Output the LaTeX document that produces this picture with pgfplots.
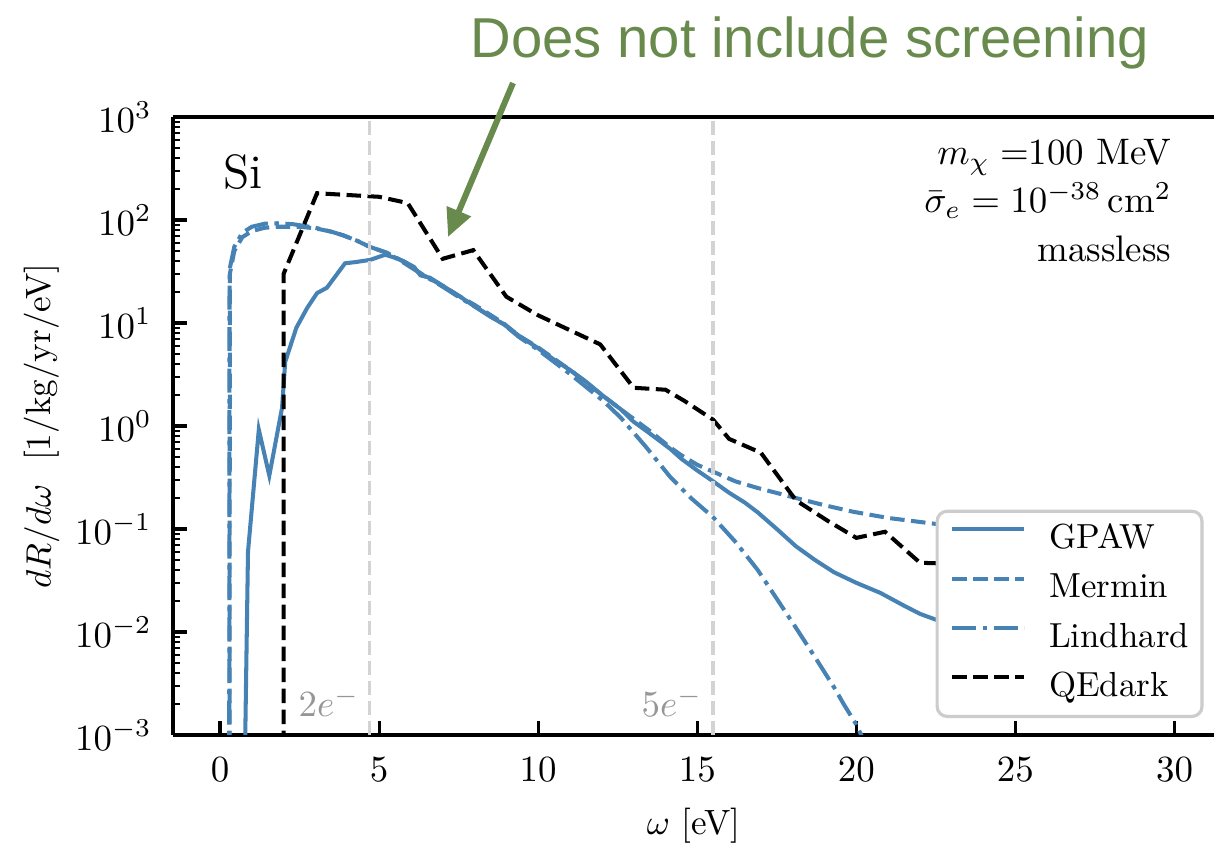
\RequirePackage{fix-cm}
\documentclass[border=0pt]{standalone}
\usepackage{fontspec}
\usepackage{pgfplots}
\pgfplotsset{compat=1.18}
\usetikzlibrary{arrows.meta}
\newfontfamily\annfont{Liberation Sans}
\definecolor{steel}{RGB}{70,130,180}
\definecolor{annot}{RGB}{104,138,76}
\definecolor{vline}{RGB}{211,211,211}
\definecolor{ntext}{RGB}{150,150,150}
\newcommand\labfont{\fontsize{10.5}{12.5}\selectfont}

\begin{document}
\begin{tikzpicture}
\begin{axis}[
  at={(0,0)}, anchor=south west,
  scale only axis, width=104.1mm, height=61.8mm,
  xmin=-1.477, xmax=31.24, ymin=1e-3, ymax=1e3, ymode=log,
  axis x line*=box, axis y line*=left,
  axis line style={line width=1.0pt, -},
  xtick={0,5,...,30}, xtick pos=left,
  ytick={1e-3,1e-2,1e-1,1,10,100,1000},
  tick align=inside,
  major tick length=1.4mm, minor tick length=0.75mm,
  major tick style={black, line width=0.9pt},
  minor tick style={black, line width=0.65pt},
  tick label style={font=\labfont},
  xticklabel style={yshift=-1mm},
  yticklabel style={xshift=-0.9mm},
  label style={font=\labfont},
  xlabel={$\omega$ [eV]},
  ylabel={$dR/d\omega$~~[1/kg/yr/eV]},
  every axis x label/.style={at={(axis description cs:0.5,-0.146)}, anchor=center},
  every axis y label/.style={at={(axis description cs:-0.126,0.5)}, anchor=center, rotate=90},
  legend style={
    at={(axis description cs:0.990,0.0275)}, anchor=south east,
    draw=black!20, line width=0.9pt, rounded corners=1mm, fill=white,
    font=\fontsize{9.9}{12}\selectfont,
    inner xsep=1.3mm, inner ysep=1.1mm,
    row sep=1.42mm,
    nodes={text height=0.75em, text depth=0.25em, inner ysep=0pt, inner xsep=0pt},
    /tikz/every odd column/.append style={column sep=2.3mm},
  },
  legend cell align=left,
  legend image code/.code={\draw[#1, rounded corners=0pt] (0mm,0.3em) -- (7.2mm,0.3em);},
  every axis plot/.append style={line width=1.15pt},
]

% GPAW
\addplot[steel, solid] coordinates {
(0.78,0.0005) (0.88,0.06) (1.22,0.92) (1.55,0.33) (1.95,1.5) (2.05,4.2)
(2.4,9) (2.74,14) (3.05,19.5) (3.36,22) (3.93,38) (4.25,39) (4.72,41)
(5.19,46) (5.5,43) (5.76,40) (6.1,35) (6.3,29) (6.6,27.5) (7.0,23)
(7.55,18) (8.0,14.5) (8.5,11.5) (8.9,9.8) (9.4,7.5) (9.96,5.8) (10.5,4.4)
(11.0,3.5) (11.5,2.7) (12.05,1.95) (12.6,1.45) (13.0,1.1) (13.5,0.85)
(14.15,0.6) (14.5,0.48) (15.0,0.37) (15.5,0.29) (16.0,0.225) (16.5,0.18)
(16.9,0.145) (17.5,0.1) (18.1,0.068) (18.7,0.05) (19.3,0.038) (20.0,0.03)
(20.75,0.024) (21.5,0.018) (22.0,0.015) (22.7,0.0125) (23.5,0.010)
(25,0.007) (27,0.0045) (30,0.0025)
};
\addlegendentry{GPAW}

% Mermin
\addplot[steel, dash pattern=on 1.45mm off 0.65mm] coordinates {
(0.30,0.0005) (0.31,30) (0.45,50) (0.7,68) (1.0,78) (1.4,84) (1.8,86)
(2.5,86) (3.0,83) (3.5,77) (3.87,71) (4.3,63) (4.7,55) (5.25,48) (5.8,39)
(6.4,29) (7.0,23) (7.55,18) (8.0,15) (8.9,10) (9.4,7.5) (9.96,5.9)
(11.0,3.5) (12.05,1.95) (12.6,1.45) (13.5,0.9) (14.15,0.62) (14.5,0.52)
(15.0,0.42) (15.5,0.36) (16.2,0.29) (16.9,0.25) (18.1,0.2) (19.0,0.17)
(19.9,0.147) (21.0,0.128) (22.7,0.11) (25,0.095) (27.5,0.083) (30,0.074)
};
\addlegendentry{Mermin}

% Lindhard
\addplot[steel, dash pattern=on 2.4mm off 0.65mm on 0.45mm off 0.65mm] coordinates {
(0.29,0.0005) (0.30,33) (0.45,55) (0.7,75) (1.0,86) (1.4,92) (1.8,93)
(2.3,91) (2.6,88) (3.0,84) (3.5,77) (3.87,71) (4.3,63) (4.7,55) (5.25,48)
(5.8,38) (6.4,29) (7.0,22.5) (7.55,17.5) (8.0,14.5) (8.9,9.8) (9.4,7.3)
(9.96,5.6) (11.0,3.2) (12.05,1.75) (12.6,1.2) (13.4,0.62) (14.15,0.32)
(14.8,0.2) (15.5,0.13) (16.2,0.075) (16.9,0.04) (17.5,0.021) (18.1,0.011)
(18.7,0.0057) (19.3,0.0029) (19.6,0.002) (20.0,0.00126) (20.3,0.0008)
};
\addlegendentry{Lindhard}

% QEdark
\addplot[black, dash pattern=on 1.45mm off 0.65mm] coordinates {
(2.0,0.0005) (2.0,30) (3.05,182) (4.7,170) (5.0,168) (5.9,146) (7.0,42)
(7.96,51) (9.0,18) (9.97,12) (11.0,8.5) (11.95,6.2) (13.0,2.35) (14.0,2.25)
(14.6,1.75) (15.5,1.15) (16.0,0.75) (17.0,0.55) (18.1,0.19) (19.1,0.12)
(20.0,0.082) (20.9,0.094) (22.0,0.047) (23.0,0.046) (24,0.035) (26,0.025)
(28,0.02) (30,0.015)
};
\addlegendentry{QEdark}

% electron-number thresholds
\addplot[vline, line width=1.1pt, dash pattern=on 1.4mm off 0.6mm, forget plot] coordinates {(4.7,1e-3) (4.7,1e3)};
\addplot[vline, line width=1.1pt, dash pattern=on 1.4mm off 0.6mm, forget plot] coordinates {(15.5,1e-3) (15.5,1e3)};
\end{axis}

\begin{scope}[shift={(-17.3mm,73.5mm)}, x=0.1mm, y=-0.1mm]
  \node[anchor=base west, inner sep=0, font=\fontsize{13.7}{16}\selectfont] at (223,189) {Si};
  \node[anchor=base east, inner sep=0, font=\labfont] at (1172,165) {$m_\chi=$100 MeV};
  \node[anchor=base east, inner sep=0, font=\labfont] at (1172,213) {$\bar{\sigma}_e=10^{-38}\,\mathrm{cm}^2$};
  \node[anchor=base east, inner sep=0, font=\labfont] at (1172,262) {massless};
  \node[anchor=base west, inner sep=0, font=\labfont, text=ntext] at (298,717) {$2e^-$};
  \node[anchor=base west, inner sep=0, font=\labfont, text=ntext] at (641,717) {$5e^-$};
  \node[anchor=base west, inner sep=0, text=annot, font=\annfont\fontsize{16}{19}\selectfont] at (470,58) {Does not include screening};
  \draw[annot, line width=0.6mm, -{Triangle[length=2.8mm,width=2.5mm]}] (513,83) -- (448,237);
  \pgfresetboundingbox
  \path[use as bounding box] (0,0) rectangle (1214,845);
\end{scope}
\end{tikzpicture}
\end{document}
